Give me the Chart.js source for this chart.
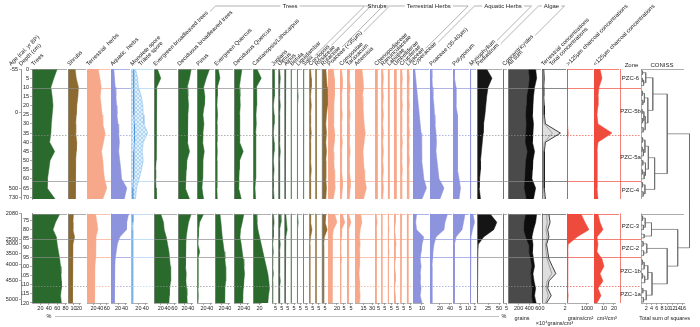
<!DOCTYPE html>
<html lang="en">
<head>
<meta charset="utf-8">
<title>Pollen diagram</title>
<script src="https://cdn.jsdelivr.net/npm/chart.js@4.4.1/dist/chart.umd.min.js"></script>
<style>
  html, body { margin: 0; padding: 0; background: #ffffff; }
  #wrap { position: relative; width: 700px; height: 327px; overflow: hidden; background: #ffffff; }
  #wrap canvas { position: absolute; left: 0; }
</style>
</head>
<body>
<div id="wrap">
  <canvas id="upperChart" width="700" height="206" style="top:0px"></canvas>
  <canvas id="lowerChart" width="700" height="127" style="top:200px"></canvas>
</div>
<script>
/* ===============================
   DEPTHS, AGES, ZONES
================================ */
const upperDepths = [0, 5, 10, 15, 20, 25, 30, 35, 40, 45, 50, 55, 60, 65, 71];
const lowerDepths = [71.5, 76, 80, 84, 88, 92, 96, 100, 104, 108, 112, 116, 120];
const upperDepthTicks = [0, 5, 10, 15, 20, 25, 30, 35, 40, 45, 50, 55, 60, 65, 70];
const lowerDepthTicks = [75, 80, 85, 90, 95, 100, 105, 110, 115, 120];

const upperAgeLabels = ["-55", "0", "500", "730"];
const upperAgeDepths = [0, 24, 65, 70];
const lowerAgeLabels = ["2080", "2500", "3000", "3500", "4000", "4500", "5000"];
const lowerAgeDepths = [71.2, 85.4, 87.6, 93.1, 99.1, 107.8, 118.2];

const upperZones = ["PZC-6", "PZC-5b", "PZC-5a", "PZC-4"];
const upperZoneBounds = [0, 10.5, 36, 61, 71];
const upperZoneDashed = [false, true, false];
const lowerZones = ["PZC-3", "PZC-2", "PZC-1b", "PZC-1a"];
const lowerZoneBounds = [71.2, 85.3, 95, 111, 120];
const lowerZoneDashed = [false, false, true];

/* ===============================
   POLLEN PERCENTAGES (upper / lower)
================================ */
const treesUp = [60, 52, 45, 48, 50, 48, 46, 45, 42, 54, 43, 40, 37, 36, 55];
const treesLow = [66, 56, 50, 58, 60, 63, 66, 68, 69, 70, 70, 68, 70];
const shrubsUp = [13, 15, 19, 18, 16, 15, 14, 14, 16, 15, 14, 13, 13, 14, 13];
const shrubsLow = [10, 9, 9, 12, 9, 8, 8, 8, 8, 8, 8, 9, 8];
const terrHerbsUp = [34, 39, 43, 40, 43, 46, 48, 55, 50, 44, 48, 50, 53, 60, 48];
const terrHerbsLow = [26, 30, 33, 27, 27, 26, 25, 24, 23, 22, 23, 24, 22];
const aquaticUp = [8, 10, 12, 14, 16, 17, 20, 22, 24, 22, 25, 28, 30, 45, 38];
const aquaticLow = [50, 45, 44, 25, 18, 15, 12, 11, 10, 10, 9, 10, 9];
const monoleteUp = [12, 18, 20, 28, 32, 33, 35, 45, 33, 30, 33, 28, 22, 15, 12];
const monoleteLow = [7, 6, 5, 5, 5, 5, 5, 5, 5, 5, 5, 5, 5];
const trileteUp = [6, 6, 7, 8, 8, 8, 9, 10, 9, 8, 8, 7, 6, 5, 5];
const trileteLow = [3, 3, 2, 2, 2, 2, 2, 2, 2, 2, 2, 2, 2];

const evBroadUp = [10, 20, 8, 7, 6, 7, 6, 6, 6, 6, 6, 5, 5, 6, 7];
const evBroadLow = [20, 28, 30, 36, 40, 44, 46, 48, 50, 48, 46, 45, 44];
const decBroadUp = [40, 35, 28, 30, 32, 30, 28, 30, 28, 35, 27, 25, 24, 22, 35];
const decBroadLow = [40, 32, 28, 25, 24, 22, 22, 24, 25, 24, 26, 27, 28];
const pinusUp = [38, 28, 20, 24, 22, 18, 21, 18, 17, 22, 18, 16, 18, 15, 20];
const pinusLow = [20, 8, 5, 4, 3, 8, 3, 3, 3, 3, 3, 4, 3];
const evQuercusUp = [10, 15, 7, 7, 6, 8, 6, 6, 6, 7, 6, 6, 5, 6, 7];
const evQuercusLow = [15, 18, 20, 22, 25, 28, 30, 32, 33, 32, 30, 30, 28];
const decQuercusUp = [24, 20, 16, 18, 19, 17, 17, 18, 16, 28, 17, 16, 15, 14, 22];
const decQuercusLow = [30, 25, 20, 18, 22, 25, 28, 30, 32, 30, 28, 27, 26];
const castanopsisUp = [12, 25, 10, 12, 10, 9, 10, 8, 8, 9, 8, 8, 7, 6, 8];
const castanopsisLow = [10, 12, 15, 20, 25, 30, 35, 40, 45, 48, 50, 47, 45];

const juglansUp = [3, 4, 3, 3, 2, 3, 3, 2, 3, 3, 2, 3, 2, 2, 3];
const juglansLow = [2, 3, 2, 2, 1, 2, 1, 1, 2, 1, 1, 1, 1];
const ulmusUp = [2, 3, 2, 2, 3, 2, 2, 2, 2, 3, 2, 2, 2, 2, 2];
const ulmusLow = [3, 4, 2, 2, 3, 2, 2, 2, 2, 3, 2, 2, 2];
const alnusUp = [2, 2, 1, 2, 1, 2, 1, 1, 2, 1, 1, 1, 1, 1, 1];
const alnusLow = [2, 3, 4, 2, 1, 1, 1, 2, 1, 1, 1, 2, 1];
const betulaUp = [1, 2, 1, 1, 1, 2, 1, 1, 1, 1, 2, 1, 1, 1, 1];
const betulaLow = [1, 1, 2, 1, 1, 1, 1, 1, 1, 1, 1, 1, 1];
const liquidambarUp = [1, 1, 1, 2, 1, 1, 1, 1, 1, 1, 1, 1, 1, 1, 1];
const liquidambarLow = [1, 2, 1, 1, 1, 1, 1, 1, 1, 1, 1, 1, 1];
const salixUp = [1, 1, 0.5, 1, 1, 0.5, 1, 1, 0.5, 1, 1, 0.5, 1, 1, 0.5];
const salixLow = [0.5, 1, 1, 0.5, 0.5, 1, 0.5, 0.5, 1, 0.5, 0.5, 0.5, 0.5];

const corylopsisUp = [2, 3, 3, 2, 3, 2, 2, 3, 2, 2, 2, 3, 2, 2, 2];
const corylopsisLow = [2, 2, 4, 2, 1, 1, 1, 1, 1, 1, 1, 1, 1];
const rosaceaeUp = [1, 2, 2, 1, 2, 1, 1, 2, 1, 1, 1, 2, 1, 1, 1];
const rosaceaeLow = [1, 1, 2, 1, 1, 1, 1, 1, 1, 1, 1, 1, 1];
const rutaceaeUp = [6, 7, 8, 9, 8, 7, 6, 7, 6, 7, 6, 6, 6, 7, 6];
const rutaceaeLow = [6, 5, 8, 4, 3, 3, 3, 3, 3, 3, 3, 3, 3];

const poaceaeSmallUp = [12, 14, 15, 14, 13, 12, 13, 15, 14, 12, 13, 14, 15, 16, 12];
const poaceaeSmallLow = [15, 20, 12, 10, 9, 9, 10, 9, 9, 9, 10, 9, 9];
const compositaeUp = [2, 3, 3, 2, 2, 3, 2, 2, 3, 2, 2, 2, 3, 3, 2];
const compositaeLow = [3, 6, 2, 2, 1, 1, 2, 1, 1, 1, 1, 1, 1];
const taraxacumUp = [3, 3, 4, 3, 3, 4, 3, 3, 3, 4, 3, 3, 4, 4, 3];
const taraxacumLow = [2, 5, 2, 2, 2, 2, 2, 2, 2, 2, 2, 2, 2];
const artemisiaUp = [12, 14, 15, 13, 14, 15, 16, 18, 16, 14, 15, 16, 17, 20, 15];
const artemisiaLow = [10, 12, 9, 8, 9, 8, 8, 8, 7, 8, 8, 9, 8];
const chenopodUp = [3, 3, 4, 3, 3, 4, 3, 3, 4, 3, 3, 3, 4, 4, 3];
const chenopodLow = [2, 3, 2, 2, 2, 2, 2, 2, 2, 2, 2, 2, 2];
const ranunculUp = [2, 3, 2, 3, 2, 3, 2, 3, 2, 3, 2, 3, 2, 3, 2];
const ranunculLow = [1, 2, 1, 1, 1, 1, 2, 1, 1, 1, 1, 1, 1];
const labiataeUp = [2, 2, 3, 2, 2, 3, 2, 2, 3, 2, 2, 3, 2, 2, 3];
const labiataeLow = [1, 1, 2, 1, 1, 2, 1, 1, 1, 1, 1, 1, 1];
const umbellifUp = [3, 3, 3, 4, 3, 3, 4, 3, 3, 3, 4, 3, 3, 4, 3];
const umbellifLow = [2, 2, 1, 2, 3, 2, 2, 1, 2, 2, 1, 2, 2];
const cruciferUp = [2, 3, 2, 2, 3, 2, 2, 2, 3, 2, 2, 3, 2, 2, 2];
const cruciferLow = [2, 1, 2, 1, 1, 1, 1, 2, 1, 1, 1, 1, 1];
const liliaceaeUp = [3, 4, 3, 3, 4, 3, 3, 4, 3, 3, 4, 3, 3, 3, 3];
const liliaceaeLow = [2, 2, 2, 2, 3, 2, 2, 2, 2, 2, 2, 2, 2];

const cyperaceaeUp = [2, 3, 4, 5, 6, 7, 8, 9, 10, 9, 10, 11, 12, 15, 10];
const cyperaceaeLow = [4, 3, 4, 12, 10, 9, 8, 9, 8, 8, 9, 8, 10];
const poaceaeAquUp = [3, 4, 5, 6, 8, 9, 10, 12, 13, 12, 14, 16, 18, 28, 20];
const poaceaeAquLow = [35, 30, 28, 12, 8, 6, 5, 4, 4, 4, 4, 4, 4];
const polygonumUp = [1, 1, 2, 2, 2, 3, 3, 3, 3, 3, 3, 3, 4, 5, 4];
const polygonumLow = [8, 7, 6, 2, 1, 1, 1, 1, 1, 1, 1, 1, 1];
const myriophyllumUp = [0.2, 0.3, 0.2, 0.2, 0.2, 0.3, 0.2, 0.2, 0.2, 0.2, 0.3, 0.2, 0.2, 0.4, 0.3];
const myriophyllumLow = [1.2, 1.8, 1.0, 0.4, 0.3, 0.2, 0.2, 0.2, 0.2, 0.2, 0.2, 0.2, 0.2];
const pediastrumUp = [22, 34, 25, 22, 20, 18, 15, 14, 12, 10, 8, 8, 6, 5, 8];
const pediastrumLow = [30, 45, 38, 15, 3, 2, 1, 1, 1, 1, 1, 1, 1];
const concentricystesUp = [0.5, 0.5, 0.4, 0.4, 0.5, 0.4, 0.4, 0.5, 0.4, 0.4, 0.4, 0.4, 0.5, 0.6, 0.4];
const concentricystesLow = [0.6, 0.8, 0.6, 0.4, 0.3, 0.3, 0.3, 0.3, 0.3, 0.3, 0.3, 0.3, 0.3];

/* ===============================
   SUMS, CONCENTRATIONS, CHARCOAL
================================ */
const allSumUp = [520, 540, 500, 480, 470, 460, 480, 470, 460, 500, 470, 460, 450, 520, 480];
const allSumLow = [540, 520, 480, 450, 470, 460, 480, 500, 470, 490, 520, 500, 530];
const pollenSumUp = [380, 400, 380, 350, 340, 330, 340, 330, 320, 360, 330, 320, 310, 300, 340];
const pollenSumLow = [330, 300, 290, 330, 380, 390, 420, 440, 420, 430, 450, 440, 460];
const totalConcUp = [0.15, 0.2, 0.15, 0.15, 0.2, 0.2, 0.3, 1.6, 0.3, 0.2, 0.2, 0.2, 0.2, 0.2, 0.3];
const totalConcLow = [0.6, 0.7, 0.5, 0.6, 0.4, 0.5, 0.6, 0.9, 1.2, 0.6, 0.5, 0.8, 0.4];
const terrConcUp = [0.1, 0.12, 0.1, 0.1, 0.12, 0.12, 0.2, 0.9, 0.2, 0.12, 0.12, 0.12, 0.12, 0.12, 0.2];
const terrConcLow = [0.4, 0.45, 0.35, 0.45, 0.3, 0.35, 0.45, 0.65, 0.85, 0.45, 0.35, 0.55, 0.3];
const charcoalLargeUp = [20, 30, 20, 20, 20, 20, 30, 60, 20, 20, 20, 20, 20, 20, 30];
const charcoalLargeLow = [700, 900, 1100, 500, 60, 40, 30, 30, 30, 30, 40, 60, 30];
const charcoalSmallUp = [6, 8, 5, 4, 4, 3, 4, 18, 4, 3, 3, 3, 3, 3, 4];
const charcoalSmallLow = [4, 6, 9, 3, 4, 3, 8, 10, 6, 9, 4, 7, 3];

/* ===============================
   CONISS  [height, childA, childB], leaves = depth
================================ */
const conissZ6 = [1.8, [0.6, 1, 3], [1.0, [0.5, 5, 7], 9]];
const conissZ5b = [2.6, [1.3, [0.5, 12, 14.5], [0.7, 17, 19.5]], [1.6, [1.1, [0.4, 22, 24.5], [0.6, 27, 29.5]], [0.8, 32, 34.5]]];
const conissZ5a = [2.8, [1.5, [0.6, 37.5, 40], [0.9, [0.4, 42.5, 45], 47.5]], [1.7, [0.7, 50, 52.5], [1.2, [0.5, 55, 57.5], 60]]];
const conissZ4 = [1.5, [0.6, 62, 64.5], [0.8, 67, 69.5]];
const conissZ3 = [4.0, [1.6, [0.6, 72.5, 75], [0.9, 77.5, 80]], [1.2, 82.5, 84.5]];
const conissZ2 = [2.2, [0.8, 86.5, 89], [1.0, 91.5, 94]];
const conissZ1b = [2.6, [1.2, [0.5, 96.5, 99], 101.5], [1.4, [0.6, 104, 106.5], 109]];
const conissZ1a = [2.0, [0.7, 112, 114.5], [0.9, 117, 119.5]];
const conissTree = [18.5,
  [10, [4.5, conissZ6, conissZ5b], [5.2, conissZ5a, conissZ4]],
  [14, conissZ3, [10, conissZ2, [4.2, conissZ1b, conissZ1a]]]
];

/* ===============================
   STYLE
================================ */
const FONT = "Arial, 'Liberation Sans', sans-serif";
const GREEN = "#2b6a2d";
const BROWN = "#8d6a30";
const SALMON = "#f7a88b";
const BLUE = "#8d93dc";
const SKY = "#a9d3f2";
const RED = "#ee4b3d";
const GRID = "#8c8c8c";

Chart.defaults.font.family = FONT;
Chart.defaults.font.size = 5.5;
Chart.defaults.color = "#222";

function hatch(bg, fg) {
  const c = document.createElement("canvas");
  c.width = 4; c.height = 4;
  const g = c.getContext("2d");
  g.fillStyle = bg; g.fillRect(0, 0, 4, 4);
  g.strokeStyle = fg; g.lineWidth = 0.5;
  g.beginPath(); g.moveTo(0, 4); g.lineTo(4, 0); g.moveTo(0, 0); g.lineTo(4, 4); g.stroke();
  return g.createPattern(c, "repeat");
}

function S(up, low, style) {
  return Object.assign({ up, low, bg: GREEN, border: null, bw: 0.5, fill: true, order: 1 }, style || {});
}
const g = (up, low) => S(up, low, { bg: GREEN });
const b = (up, low) => S(up, low, { bg: BROWN });
const sal = (up, low) => S(up, low, { bg: SALMON });
const blu = (up, low) => S(up, low, { bg: BLUE });

/* ===============================
   COLUMNS (left to right)
================================ */
const columns = [
  { id: "trees", label: ["Trees"], w: 36, max: 85.7, ticks: [20, 40, 60, 80], axis: GRID, series: [g(treesUp, treesLow)] },
  { id: "shrubs", label: ["Shrubs"], w: 19, max: 34.5, ticks: [10, 20], axis: GRID, series: [b(shrubsUp, shrubsLow)] },
  { id: "terr", label: ["Terrestrial  herbs"], w: 24, max: 72.7, ticks: [20, 40, 60], axis: SALMON, series: [sal(terrHerbsUp, terrHerbsLow)] },
  { id: "aqua", label: ["Aquatic  herbs"], w: 20, max: 57, ticks: [20, 40], axis: BLUE, series: [blu(aquaticUp, aquaticLow)] },
  { id: "spore", label: ["Monolete spore", "Trilete spore"], w: 23, max: 62, ticks: [20, 40], axis: SKY,
    series: [S(monoleteUp, monoleteLow, { bg: "hatch", border: "#7dbbea", order: 2 }),
             S(trileteUp, trileteLow, { bg: "#4b8fdc", border: "#4b8fdc", fill: false, bw: 0.6, order: 1 })] },
  { id: "evb", label: ["Evergreen broadleaved trees"], w: 24, max: 70.6, ticks: [20, 40, 60], axis: GRID, series: [g(evBroadUp, evBroadLow)] },
  { id: "deb", label: ["Deciduous broadleaved trees"], w: 19, max: 57.6, ticks: [20, 40], axis: GRID, series: [g(decBroadUp, decBroadLow)] },
  { id: "pinus", label: ["Pinus"], w: 18, max: 54.5, ticks: [20, 40], axis: GRID, series: [g(pinusUp, pinusLow)] },
  { id: "evq", label: ["Evergreen Quercus"], w: 19, max: 57.6, ticks: [20, 40], axis: GRID, series: [g(evQuercusUp, evQuercusLow)] },
  { id: "deq", label: ["Deciduous Quercus"], w: 19, max: 57.6, ticks: [20, 40], axis: GRID, series: [g(decQuercusUp, decQuercusLow)] },
  { id: "cast", label: ["Castanopsis/Lithocarpus"], w: 19, max: 57.6, ticks: [20], axis: GRID, series: [g(castanopsisUp, castanopsisLow)] },
  { id: "jug", label: ["Juglans"], w: 6.2, max: 8.86, ticks: [5], axis: GRID, series: [g(juglansUp, juglansLow)] },
  { id: "ulm", label: ["Ulmus"], w: 6.2, max: 8.86, ticks: [5], axis: GRID, series: [g(ulmusUp, ulmusLow)] },
  { id: "aln", label: ["Alnus"], w: 6.2, max: 8.86, ticks: [5], axis: GRID, series: [g(alnusUp, alnusLow)] },
  { id: "bet", label: ["Betula"], w: 6.2, max: 8.86, ticks: [5], axis: GRID, series: [g(betulaUp, betulaLow)] },
  { id: "liq", label: ["Liquidambar"], w: 6.2, max: 8.86, ticks: [5], axis: GRID, series: [g(liquidambarUp, liquidambarLow)] },
  { id: "sal", label: ["Salix"], w: 6.2, max: 8.86, ticks: [5], axis: GRID, series: [g(salixUp, salixLow)] },
  { id: "cor", label: ["Corylopsis"], w: 6.2, max: 8.86, ticks: [5], axis: GRID, series: [b(corylopsisUp, corylopsisLow)] },
  { id: "ros", label: ["Rosaceae"], w: 6.2, max: 8.86, ticks: [5], axis: GRID, series: [b(rosaceaeUp, rosaceaeLow)] },
  { id: "rut", label: ["Rutaceae"], w: 6.4, max: 9.14, ticks: [5], axis: GRID, series: [b(rutaceaeUp, rutaceaeLow)] },
  { id: "poas", label: ["Poaceae (<35\u03bcm)"], w: 12, max: 26.7, ticks: [20], axis: SALMON, series: [sal(poaceaeSmallUp, poaceaeSmallLow)] },
  { id: "comp", label: ["Compositae"], w: 7, max: 8.75, ticks: [5], axis: SALMON, series: [sal(compositaeUp, compositaeLow)] },
  { id: "tara", label: ["Taraxacum"], w: 8, max: 10, ticks: [5], axis: SALMON, series: [sal(taraxacumUp, taraxacumLow)] },
  { id: "arte", label: ["Artemisia"], w: 20, max: 35, ticks: [15, 30], axis: SALMON, series: [sal(artemisiaUp, artemisiaLow)] },
  { id: "chen", label: ["Chenopodiaceae"], w: 6.33, max: 9, ticks: [5], axis: SALMON, series: [sal(chenopodUp, chenopodLow)] },
  { id: "ranu", label: ["Ranunculaceae"], w: 6.33, max: 9, ticks: [5], axis: SALMON, series: [sal(ranunculUp, ranunculLow)] },
  { id: "labi", label: ["Labiatae"], w: 6.33, max: 9, ticks: [5], axis: SALMON, series: [sal(labiataeUp, labiataeLow)] },
  { id: "umbe", label: ["Umbelliferae"], w: 6.33, max: 9, ticks: [5], axis: SALMON, series: [sal(umbellifUp, umbellifLow)] },
  { id: "cruc", label: ["Cruciferae"], w: 6.33, max: 9, ticks: [5], axis: SALMON, series: [sal(cruciferUp, cruciferLow)] },
  { id: "lili", label: ["Liliaceae"], w: 6.35, max: 9, ticks: [5], axis: SALMON, series: [sal(liliaceaeUp, liliaceaeLow)] },
  { id: "cype", label: ["Cyperaceae"], w: 17, max: 18.9, ticks: [10], axis: BLUE, series: [blu(cyperaceaeUp, cyperaceaeLow)] },
  { id: "poaa", label: ["Poaceae (35-40\u03bcm)"], w: 23, max: 46, ticks: [20, 40], axis: BLUE, series: [blu(poaceaeAquUp, poaceaeAquLow)] },
  { id: "poly", label: ["Polygonum"], w: 17, max: 11.3, ticks: [5, 10], axis: BLUE, series: [blu(polygonumUp, polygonumLow)] },
  { id: "myri", label: ["Myriophyllum"], w: 7, max: 2.8, ticks: [2], axis: BLUE, series: [blu(myriophyllumUp, myriophyllumLow)] },
  { id: "pedi", label: ["Pediastrum"], w: 26, max: 59, ticks: [25, 50], axis: GRID, series: [S(pediastrumUp, pediastrumLow, { bg: "#151515" })] },
  { id: "conc", label: ["Concentricystes"], w: 5, max: 7, ticks: [5], axis: GRID, series: [S(concentricystesUp, concentricystesLow, { bg: "#151515" })] },
  { id: "sum", label: ["All sum"], w: 34, max: 640, ticks: [200, 400, 600], axis: GRID,
    series: [S(allSumUp, allSumLow, { bg: "#0d0d0d", order: 2 }), S(pollenSumUp, pollenSumLow, { bg: "#4a4a4a", order: 1 })] },
  { id: "dens", label: ["Terrestrial concentrations", "Total concentrations"], w: 25, max: 2.17, ticks: [2], axis: "#555",
    series: [S(totalConcUp, totalConcLow, { bg: "#dedede", border: "#111", bw: 0.8, order: 2 }),
             S(terrConcUp, terrConcLow, { bg: "#777", border: "#777", bw: 0.6, fill: false, order: 1 })] },
  { id: "chl", label: [">125\u03bcm charcoal concentrations"], w: 27, max: 1350, ticks: [1000], axis: RED, series: [S(charcoalLargeUp, charcoalLargeLow, { bg: RED })] },
  { id: "chs", label: ["<125\u03bcm charcoal concentrations"], w: 26, max: 26, ticks: [10, 20], axis: RED, series: [S(charcoalSmallUp, charcoalSmallLow, { bg: RED })] },
  { id: "zone", label: null, w: 21, max: 1, ticks: [], axis: RED, series: [] },
  { id: "coniss", label: null, w: 59, max: 22.5, ticks: [2, 4, 6, 8, 10, 12, 14, 16], axis: "#888", series: [] }
];

const groups = [
  { name: "Trees", from: "evb", to: "sal" },
  { name: "Shrubs", from: "cor", to: "rut" },
  { name: "Terrestrial Herbs", from: "poas", to: "lili" },
  { name: "Aquatic Herbs", from: "cype", to: "myri" },
  { name: "Algae", from: "pedi", to: "conc" }
];

/* ===============================
   HELPERS
================================ */
function line(ctx, x1, y1, x2, y2) {
  ctx.beginPath(); ctx.moveTo(x1, y1); ctx.lineTo(x2, y2); ctx.stroke();
}
function rotText(ctx, txt, x, y) {
  ctx.save(); ctx.translate(x, y); ctx.rotate(-Math.PI / 4); ctx.fillText(txt, 0, 0); ctx.restore();
}
function dendrogram(node, segs) {
  if (typeof node === "number") return { h: 0, y: node };
  const [h, a, c] = node;
  const ra = dendrogram(a, segs), rc = dendrogram(c, segs);
  segs.push([ra.h, ra.y, h, ra.y], [rc.h, rc.y, h, rc.y], [h, ra.y, h, rc.y]);
  return { h, y: (ra.y + rc.y) / 2 };
}
const conissSegments = [];
dendrogram(conissTree, conissSegments);

/* ===============================
   DATASETS
================================ */
function buildDatasets(sec) {
  const depths = sec === "up" ? upperDepths : lowerDepths;
  const sets = [];
  columns.forEach(col => {
    col.series.forEach(s => {
      const vals = s[sec];
      const bg = s.bg === "hatch" ? hatch("#e3f1fc", "#79b8ea") : s.bg;
      sets.push({
        xAxisID: "x_" + col.id, yAxisID: "y",
        data: depths.map((d, i) => ({ x: vals[i], y: d })),
        backgroundColor: bg, borderColor: s.border || s.bg, borderWidth: s.bw,
        fill: s.fill ? "origin" : false, pointRadius: 0, tension: 0, order: s.order
      });
    });
  });
  const segs = conissSegments.filter(sg => sec === "up"
    ? Math.min(sg[1], sg[3]) <= 71 : Math.max(sg[1], sg[3]) >= 71.2);
  const pts = [];
  segs.forEach(sg => {
    pts.push({ x: sg[0], y: sg[1] }, { x: sg[2], y: sg[3] }, { x: null, y: null });
  });
  sets.push({
    xAxisID: "x_coniss", yAxisID: "y", data: pts, borderColor: "#6a6a6a", borderWidth: 0.7,
    fill: false, pointRadius: 0, tension: 0, spanGaps: false, clip: false, order: 0
  });
  return sets;
}

/* ===============================
   SCALES
================================ */
function buildScales(sec) {
  const isLow = sec === "low";
  const scales = {
    y: {
      type: "linear", position: "left", weight: 1, reverse: true,
      min: isLow ? 71.2 : 0, max: isLow ? 120 : 71,
      afterFit: s => { s.width = 11; s.paddingTop = 0; s.paddingBottom = 0; },
      afterBuildTicks: s => { s.ticks = (isLow ? lowerDepthTicks : upperDepthTicks).map(v => ({ value: v })); },
      ticks: { padding: 1, autoSkip: false, color: "#222", callback: v => String(v) },
      grid: { drawOnChartArea: false, tickLength: 2, color: "#777", lineWidth: 0.6 },
      border: { display: true, color: "#777", width: 0.8 }
    },
    age: {
      type: "linear", position: "left", weight: 2, reverse: true, axis: "y",
      min: isLow ? 71.2 : 0, max: isLow ? 120 : 71,
      afterFit: s => { s.width = 21; s.paddingTop = 0; s.paddingBottom = 0; },
      afterBuildTicks: s => { s.ticks = (isLow ? lowerAgeDepths : upperAgeDepths).map(v => ({ value: v })); },
      ticks: { padding: 1, autoSkip: false, color: "#222",
        callback: (v, i) => (isLow ? lowerAgeLabels : upperAgeLabels)[i] },
      grid: { drawOnChartArea: false, tickLength: 2, color: "#777", lineWidth: 0.6 },
      border: { display: true, color: "#777", width: 0.8 }
    }
  };
  columns.forEach(col => {
    scales["x_" + col.id] = {
      type: "linear", axis: "x", position: "bottom", stack: "cols", stackWeight: col.w,
      min: 0, max: col.max,
      afterBuildTicks: s => { s.ticks = col.ticks.map(v => ({ value: v })); },
      afterFit: s => { s.height = isLow ? 11 : 0; s.paddingLeft = 0; s.paddingRight = 0; },
      ticks: { display: isLow, padding: 0, maxRotation: 0, autoSkip: false, color: "#222", callback: v => String(v) },
      grid: { display: isLow, drawOnChartArea: false, tickLength: 2, color: "#777", lineWidth: 0.6 },
      border: { display: false }
    };
  });
  return scales;
}

/* ===============================
   DECORATION: column lines, zones
================================ */
function sectionPlugin(sec) {
  return {
    id: "section_" + sec,
    afterDatasetsDraw(chart) {
      const ctx = chart.ctx, area = chart.chartArea, ys = chart.scales.y;
      const bounds = sec === "up" ? upperZoneBounds : lowerZoneBounds;
      const dashed = sec === "up" ? upperZoneDashed : lowerZoneDashed;
      const names = sec === "up" ? upperZones : lowerZones;
      ctx.save();
      ctx.lineWidth = 0.7;
      columns.forEach(col => {
        const s = chart.scales["x_" + col.id];
        const last = col.ticks.length ? s.getPixelForValue(col.ticks[col.ticks.length - 1]) + 1 : s.right - 1;
        ctx.strokeStyle = col.axis;
        ctx.setLineDash([]);
        line(ctx, Math.round(s.left) + 0.5, area.top, Math.round(s.left) + 0.5, area.bottom);
        if (col.id !== "zone") {
          line(ctx, s.left, Math.round(area.top) + 0.5, col.id === "coniss" ? last : s.right - 1, Math.round(area.top) + 0.5);
        }
        if (sec === "low" && col.ticks.length) {
          ctx.strokeStyle = "#888";
          line(ctx, s.left, Math.round(area.bottom) + 0.5, Math.min(last + 1, s.right - 1), Math.round(area.bottom) + 0.5);
          ctx.strokeStyle = col.axis;
        }
        if (col.id === "coniss") return;
        for (let i = 1; i < bounds.length - 1; i++) {
          const py = Math.round(ys.getPixelForValue(bounds[i])) + 0.5;
          ctx.setLineDash(dashed[i - 1] ? [1.5, 1.5] : []);
          line(ctx, s.left, py, s.right, py);
        }
        ctx.setLineDash([]);
      });
      const zs = chart.scales.x_zone;
      ctx.fillStyle = "#222";
      ctx.font = "6px " + FONT;
      ctx.textAlign = "center";
      ctx.textBaseline = "middle";
      names.forEach((n, i) => {
        const mid = (bounds[i] + bounds[i + 1]) / 2;
        ctx.fillText(n, (zs.left + zs.right) / 2, ys.getPixelForValue(mid));
      });
      ctx.restore();
    }
  };
}

const headerPlugin = {
  id: "headers",
  afterDraw(chart) {
    const ctx = chart.ctx;
    ctx.save();
    ctx.font = "5.8px " + FONT;
    ctx.fillStyle = "#222";
    ctx.textAlign = "left";
    ctx.textBaseline = "alphabetic";
    const ends = {};
    columns.forEach(col => {
      if (!col.label) return;
      const s = chart.scales["x_" + col.id];
      col.label.forEach((txt, k) => {
        const x0 = s.left + 1.5 + k * 8, y0 = 66;
        rotText(ctx, txt, x0, y0);
        if (k === 0) {
          const L = ctx.measureText(txt).width * Math.SQRT1_2;
          ends[col.id] = [x0 + L, y0 - L];
        }
      });
    });
    rotText(ctx, "Age (cal. yr BP)", 11, 66);
    rotText(ctx, "Depth (cm)", 21, 66);

    ctx.strokeStyle = "#666";
    ctx.lineWidth = 0.5;
    ctx.font = "6px " + FONT;
    groups.forEach(gr => {
      const a = ends[gr.from], c = ends[gr.to];
      const xa = a[0] + (a[1] - 6), xc = c[0] + (c[1] - 6);
      line(ctx, a[0] + 1.5, a[1] - 1.5, xa, 6);
      line(ctx, c[0] + 1.5, c[1] - 1.5, xc, 6);
      const tw = ctx.measureText(gr.name).width, cx = (xa + xc) / 2;
      line(ctx, xa, 6, cx - tw / 2 - 2, 6);
      line(ctx, cx + tw / 2 + 2, 6, xc, 6);
      ctx.textAlign = "center";
      ctx.textBaseline = "middle";
      ctx.fillText(gr.name, cx, 6);
      ctx.textAlign = "left";
      ctx.textBaseline = "alphabetic";
    });

    const zs = chart.scales.x_zone, cs = chart.scales.x_coniss;
    ctx.textAlign = "center";
    ctx.textBaseline = "middle";
    ctx.fillText("Zone", (zs.left + zs.right) / 2 + 1, 65);
    ctx.fillText("CONISS", cs.getPixelForValue(8), 65);
    ctx.restore();
  }
};

const unitsPlugin = {
  id: "units",
  afterDraw(chart) {
    const ctx = chart.ctx, sc = chart.scales;
    const mid = id => (sc["x_" + id].left + sc["x_" + id].right) / 2;
    ctx.save();
    ctx.font = "5.5px " + FONT;
    ctx.fillStyle = "#222";
    ctx.textAlign = "center";
    ctx.textBaseline = "middle";
    ctx.strokeStyle = "#999";
    ctx.lineWidth = 0.6;
    line(ctx, 55, 116.5, sc.x_pedi.right - 4, 116.5);
    ctx.fillText("%", 49, 116.5);
    ctx.fillText("%", sc.x_pedi.right + 1, 116.5);
    ctx.fillText("grains", mid("sum") - 3, 118);
    ctx.fillText("\u00d710\u2074grains/cm\u00b3", mid("dens"), 123);
    ctx.fillText("grains/cm\u00b2", mid("chl"), 118);
    ctx.fillText("cm\u00b2/cm\u00b3", mid("chs"), 118);
    ctx.fillText("Total sum of squares", sc.x_coniss.getPixelForValue(9), 118);
    ctx.restore();
  }
};

/* ===============================
   CHARTS
================================ */
function makeChart(canvasId, sec, padding, plugins) {
  return new Chart(document.getElementById(canvasId), {
    type: "line",
    data: { datasets: buildDatasets(sec) },
    options: {
      indexAxis: "y",
      responsive: false,
      animation: false,
      events: [],
      layout: { padding },
      plugins: { legend: { display: false }, tooltip: { enabled: false } },
      scales: buildScales(sec)
    },
    plugins
  });
}

makeChart("upperChart", "up", { top: 69, bottom: 7, left: 0, right: 0 }, [sectionPlugin("up"), headerPlugin]);
makeChart("lowerChart", "low", { top: 13.5, bottom: 13, left: 0, right: 0 }, [sectionPlugin("low"), unitsPlugin]);
</script>
</body>
</html>
